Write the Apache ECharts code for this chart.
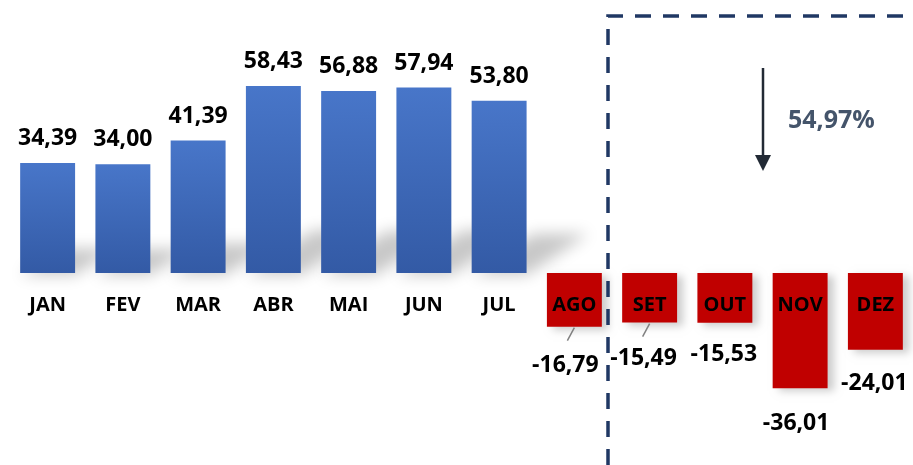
<!DOCTYPE html>
<html>
<head>
<meta charset="utf-8">
<script src="https://cdn.jsdelivr.net/npm/echarts@6/dist/echarts.min.js"></script>
<style>html,body{margin:0;padding:0;background:#fff}#c{width:913px;height:465px}</style>
</head>
<body>
<div id="c"></div>
<script>
const months = ['JAN','FEV','MAR','ABR','MAI','JUN','JUL','AGO','SET','OUT','NOV','DEZ'];
const values = [34.39, 34.00, 41.39, 58.43, 56.88, 57.94, 53.80, -16.79, -15.49, -15.53, -36.01, -24.01];
const negLabelDx = [0,0,0,0,0,0,0,-9,-6,-1,-4,-1];
const negLabelDy = [0,0,0,0,0,0,0,11,8,4,8,6];
const leaderLines = [false,false,false,false,false,false,false,true,true,false,false,false];
const changeText = '54,97%';

const FONT = '"Open Sans", Lato, sans-serif';
const fmt = v => v.toFixed(2).replace('.', ',');

const chart = echarts.init(document.getElementById('c'), null, {renderer: 'canvas'});

const blueGrad = new echarts.graphic.LinearGradient(0, 0, 0, 1, [
  {offset: 0, color: '#4876c9'},
  {offset: 1, color: '#335aa5'}
]);

const barData = values.map((v, i) => {
  const pos = v >= 0;
  return {
    value: v,
    itemStyle: pos ? {color: blueGrad} : {color: '#c00000', shadowColor: 'rgba(0,0,0,0.2)', shadowBlur: 8, shadowOffsetX: 6, shadowOffsetY: 3},
    label: pos ? {position: 'top', distance: 13} : {position: 'bottom', distance: 16, offset: [negLabelDx[i], negLabelDy[i]]}
  };
});

const decoData = values.map((v, i) => [i, v, leaderLines[i] ? 1 : 0]);

chart.setOption({
  animation: false,
  backgroundColor: '#ffffff',
  grid: {left: 10, width: 903, top: 17, height: 448, containLabel: false, outerBoundsMode: 'none'},
  xAxis: {
    type: 'category',
    data: months,
    axisLine: {show: false},
    axisTick: {show: false},
    axisLabel: {show: false}
  },
  yAxis: {
    type: 'value', min: -60, max: 80,
    axisLine: {show: false}, axisTick: {show: false}, axisLabel: {show: false},
    splitLine: {show: false}
  },
  series: [
    {
      type: 'custom',
      z: 1,
      silent: true,
      data: decoData,
      renderItem: function (params, api) {
        const idx = api.value(0), v = api.value(1);
        if (v <= 0) return null;
        const p0 = api.coord([idx, 0]);
        const p1 = api.coord([idx, v]);
        const bw = api.size([1, 0])[0] * 0.73;
        const h = p0[1] - p1[1];
        const xl = p0[0] - bw / 2, xr = p0[0] + bw / 2, y0 = p0[1] + 2;
        const off = 3000;
        const dx = h * 0.36, dy = h * 0.24;
        return {
          type: 'polygon',
          shape: {points: [[xl + off, y0], [xr + off, y0], [xr + dx + off, y0 - dy], [xl + dx + off, y0 - dy]]},
          style: {fill: '#000', shadowColor: 'rgba(0,0,0,0.22)', shadowBlur: 15, shadowOffsetX: -off, shadowOffsetY: 0}
        };
      }
    },
    {
      type: 'bar',
      z: 2,
      data: barData,
      barCategoryGap: '27%',
      label: {
        show: true,
        fontFamily: FONT, fontWeight: 'bold', fontSize: 23, color: '#000000',
        formatter: p => fmt(p.value)
      }
    },
    {
      type: 'custom',
      z: 5,
      silent: true,
      data: decoData,
      renderItem: function (params, api) {
        const idx = api.value(0), v = api.value(1), lead = api.value(2);
        const p0 = api.coord([idx, 0]);
        const p1 = api.coord([idx, v]);
        const children = [{
          type: 'text',
          style: {
            text: months[idx], x: p0[0], y: p0[1] + 32,
            align: 'center', verticalAlign: 'middle',
            font: 'bold 20px ' + FONT, fill: '#000000'
          }
        }];
        if (lead) {
          children.push({
            type: 'line',
            shape: {x1: p1[0], y1: p1[1] + 1, x2: p1[0] - 7, y2: p1[1] + 14},
            style: {stroke: '#808080', lineWidth: 1.5}
          });
        }
        return {type: 'group', children: children};
      }
    }
  ],
  graphic: [
    {type: 'polyline', z: 20, silent: true,
     shape: {points: [[608, 465], [608, 16], [913, 16]]},
     style: {stroke: '#203864', lineWidth: 3.5, lineDash: [16, 12], fill: null}},
    {type: 'line', z: 20, silent: true,
     shape: {x1: 763, y1: 68, x2: 763, y2: 158},
     style: {stroke: '#222a35', lineWidth: 2.5}},
    {type: 'polygon', z: 20, silent: true,
     shape: {points: [[755, 155], [771, 155], [763, 171]]},
     style: {fill: '#222a35'}},
    {type: 'text', z: 20, silent: true, left: 788, top: 108,
     style: {text: changeText, font: 'bold 25px ' + FONT, fill: '#44546a'}}
  ]
});
</script>
</body>
</html>
